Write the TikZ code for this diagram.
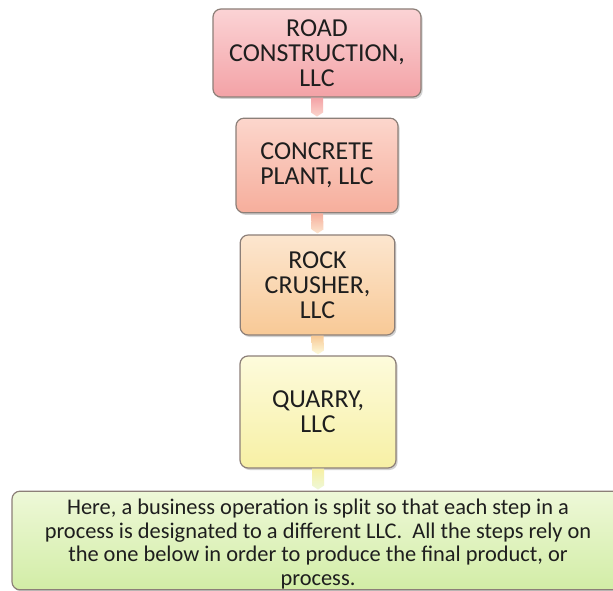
\documentclass[tikz,border=0pt]{standalone}
\usepackage{fontspec}
\setmainfont{Carlito}
\usetikzlibrary{shadows,calc}
\definecolor{txt}{HTML}{1E1E1E}
\definecolor{edge}{HTML}{8C7F78}
\definecolor{aT}{HTML}{FBD3D5}\definecolor{aB}{HTML}{F3A2A6}
\definecolor{bT}{HTML}{FCD6CC}\definecolor{bB}{HTML}{F6AE9C}
\definecolor{cT}{HTML}{FCE6CF}\definecolor{cB}{HTML}{F8C996}
\definecolor{dT}{HTML}{FDFBDC}\definecolor{dB}{HTML}{F7F0A4}
\definecolor{eT}{HTML}{EEF8D8}\definecolor{eB}{HTML}{D2EDA6}
\tikzset{
  box/.style={draw=edge, line width=0.9pt, rounded corners=6pt, align=center,
    text=txt, font=\fontsize{19.4}{18.8}\selectfont, inner sep=0pt,
    drop shadow={shadow xshift=1.2pt, shadow yshift=-1.5pt, opacity=0.35, fill=gray}},
  linkshape/.style={draw=none}
}
\begin{document}
\begin{tikzpicture}[x=0.75pt,y=-0.75pt]
\useasboundingbox (0,0) rectangle (613,591);
\fill[white] (0,0) rectangle (613,591);
\node[box, top color=aT, bottom color=aB, minimum width=156pt, minimum height=66pt] (b1) at (317,53) {ROAD\\CONSTRUCTION,\\LLC};
\node[box, top color=bT, bottom color=bB, minimum width=121.5pt, minimum height=71pt] (b2) at (317,165.5) {CONCRETE\\PLANT, LLC};
\node[box, top color=cT, bottom color=cB, minimum width=116pt, minimum height=75pt] (b3) at (317.5,285) {ROCK\\CRUSHER,\\LLC};
\node[box, top color=dT, bottom color=dB, minimum width=117pt, minimum height=84pt] (b4) at (318,412) {QUARRY,\\LLC};
\node[box, top color=eT, bottom color=eB, minimum width=459pt, minimum height=74pt, font=\fontsize{16.8}{17.6}\selectfont] (b5) at (318,540.5)
  {\rule{0pt}{17pt}Here, a business operation is split so that each step in a\\process is designated to a different LLC.\ \ All the steps rely on\\the one below in order to produce the final product, or\\process.};
\foreach \u/\l/\ct/\cb in {b1/b2/aB/bT, b2/b3/bB/cT, b3/b4/cB/dT, b4/b5/dB/eT}{
  \path[linkshape, top color=\ct, bottom color=\cb]
    ($(\u.south)+(-6,0)$) -- ($(\u.south)+(6,0)$) -- ($(\l.north)+(6,-5)$)
    -- ($(\l.north)+(0,-1)$) -- ($(\l.north)+(-6,-5)$) -- cycle;
}
\end{tikzpicture}
\end{document}
